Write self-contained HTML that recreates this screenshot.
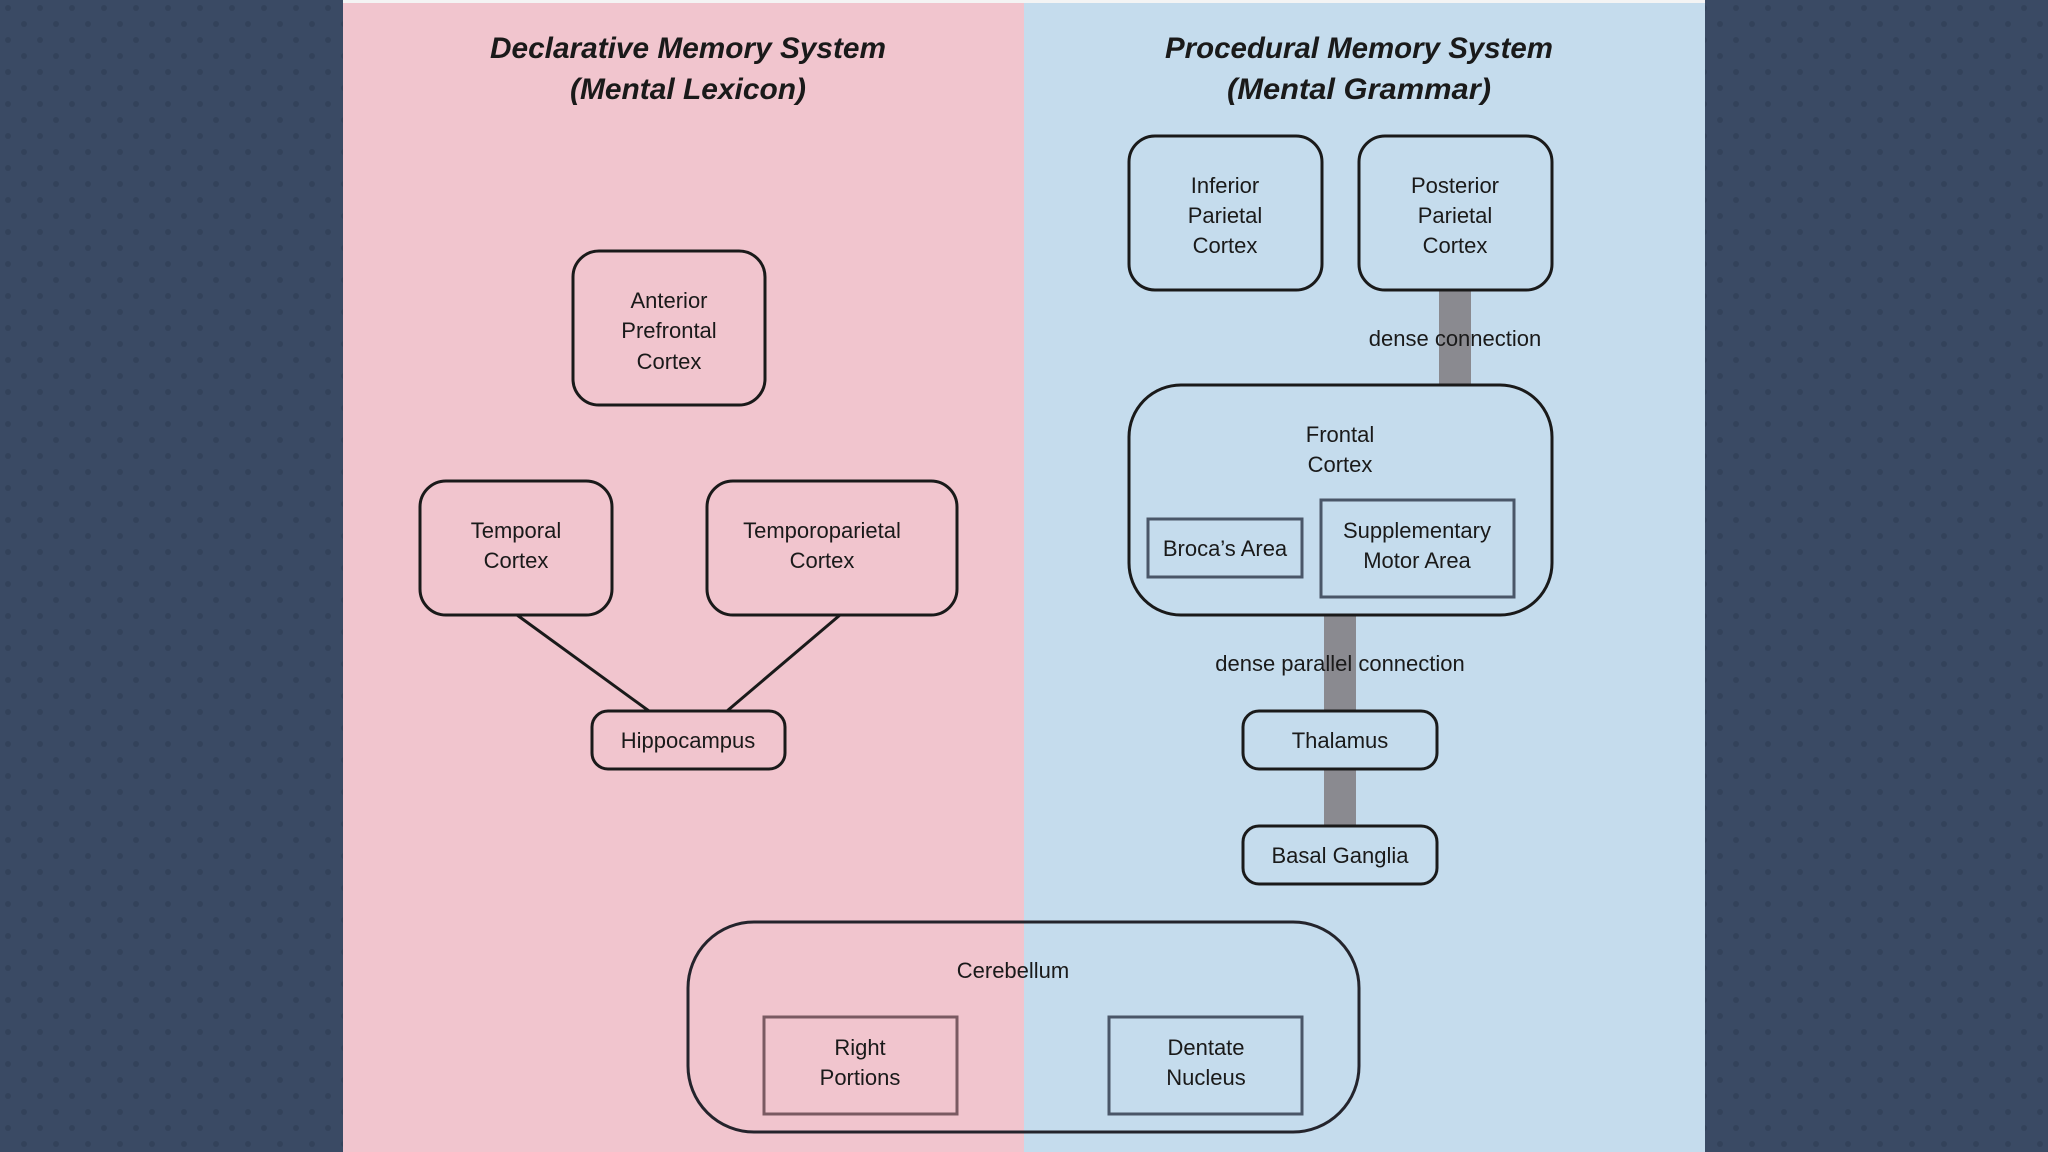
<!DOCTYPE html>
<html><head><meta charset="utf-8"><style>
html,body{margin:0;padding:0;width:2048px;height:1152px;overflow:hidden;background:#3a4a64}
svg{display:block}
text{font-family:"Liberation Sans",sans-serif;fill:#1a1a1a}
.n{font-size:22px;text-anchor:middle}
.t{font-size:30px;font-weight:bold;font-style:italic;text-anchor:middle}
</style></head><body>
<svg width="2048" height="1152" viewBox="0 0 2048 1152" xmlns="http://www.w3.org/2000/svg">
<defs>
<pattern id="dots" width="32" height="32" patternUnits="userSpaceOnUse">
<circle cx="8" cy="8" r="3" fill="#33425a"/><circle cx="24" cy="24" r="3" fill="#33425a"/>
</pattern>
</defs>
<rect width="2048" height="1152" fill="#3a4a64"/>
<rect width="2048" height="1152" fill="url(#dots)"/>
<rect x="343" y="0" width="681" height="1152" fill="#f1c5ce"/>
<rect x="1024" y="0" width="681" height="1152" fill="#c5dced"/>
<rect x="343" y="0" width="1362" height="3" fill="#f4f4f4"/>

<text class="t" x="688" y="58" textLength="396" lengthAdjust="spacingAndGlyphs">Declarative Memory System</text>
<text class="t" x="688" y="99" textLength="236" lengthAdjust="spacingAndGlyphs">(Mental Lexicon)</text>
<text class="t" x="1359" y="58" textLength="388" lengthAdjust="spacingAndGlyphs">Procedural Memory System</text>
<text class="t" x="1359" y="99" textLength="264" lengthAdjust="spacingAndGlyphs">(Mental Grammar)</text>

<!-- gray connectors -->
<rect x="1439" y="290" width="32" height="96" fill="#8a8a90"/>
<rect x="1324" y="614" width="32" height="98" fill="#8a8a90"/>
<rect x="1324" y="768" width="32" height="58" fill="#8a8a90"/>

<!-- lines to hippocampus -->
<line x1="517" y1="615" x2="649" y2="711" stroke="#1a1a1a" stroke-width="3"/>
<line x1="840" y1="615" x2="727" y2="711" stroke="#1a1a1a" stroke-width="3"/>

<g fill="none" stroke="#1a1a1a" stroke-width="3">
<rect x="573" y="251" width="192" height="154" rx="26"/>
<rect x="420" y="481" width="192" height="134" rx="26"/>
<rect x="707" y="481" width="250" height="134" rx="26"/>
<rect x="592" y="711" width="193" height="58" rx="16"/>
<rect x="1129" y="136" width="193" height="154" rx="26"/>
<rect x="1359" y="136" width="193" height="154" rx="26"/>
<rect x="1129" y="385" width="423" height="230" rx="52"/>
<rect x="1243" y="711" width="194" height="58" rx="16"/>
<rect x="1243" y="826" width="194" height="58" rx="16"/>
</g>
<g fill="none" stroke="#4a5668" stroke-width="3">
<rect x="1148" y="519" width="154" height="58"/>
<rect x="1321" y="500" width="193" height="97"/>
<rect x="1109" y="1017" width="193" height="97"/>
</g>
<rect x="764" y="1017" width="193" height="97" fill="none" stroke="#7a5a62" stroke-width="3"/>
<rect x="688" y="922" width="671" height="210" rx="66" fill="none" stroke="#24242c" stroke-width="3"/>

<text class="n" x="669" y="308">Anterior</text>
<text class="n" x="669" y="338">Prefrontal</text>
<text class="n" x="669" y="369">Cortex</text>
<text class="n" x="516" y="538">Temporal</text>
<text class="n" x="516" y="568">Cortex</text>
<text class="n" x="822" y="538">Temporoparietal</text>
<text class="n" x="822" y="568">Cortex</text>
<text class="n" x="688" y="748">Hippocampus</text>

<text class="n" x="1225" y="193">Inferior</text>
<text class="n" x="1225" y="223">Parietal</text>
<text class="n" x="1225" y="253">Cortex</text>
<text class="n" x="1455" y="193">Posterior</text>
<text class="n" x="1455" y="223">Parietal</text>
<text class="n" x="1455" y="253">Cortex</text>
<text class="n" x="1455" y="346">dense connection</text>
<text class="n" x="1340" y="442">Frontal</text>
<text class="n" x="1340" y="472">Cortex</text>
<text class="n" x="1225" y="556">Broca’s Area</text>
<text class="n" x="1417" y="538">Supplementary</text>
<text class="n" x="1417" y="568">Motor Area</text>
<text class="n" x="1340" y="671">dense parallel connection</text>
<text class="n" x="1340" y="748">Thalamus</text>
<text class="n" x="1340" y="863">Basal Ganglia</text>

<text class="n" x="1013" y="978">Cerebellum</text>
<text class="n" x="860" y="1055">Right</text>
<text class="n" x="860" y="1085">Portions</text>
<text class="n" x="1206" y="1055">Dentate</text>
<text class="n" x="1206" y="1085">Nucleus</text>
</svg>
</body></html>
